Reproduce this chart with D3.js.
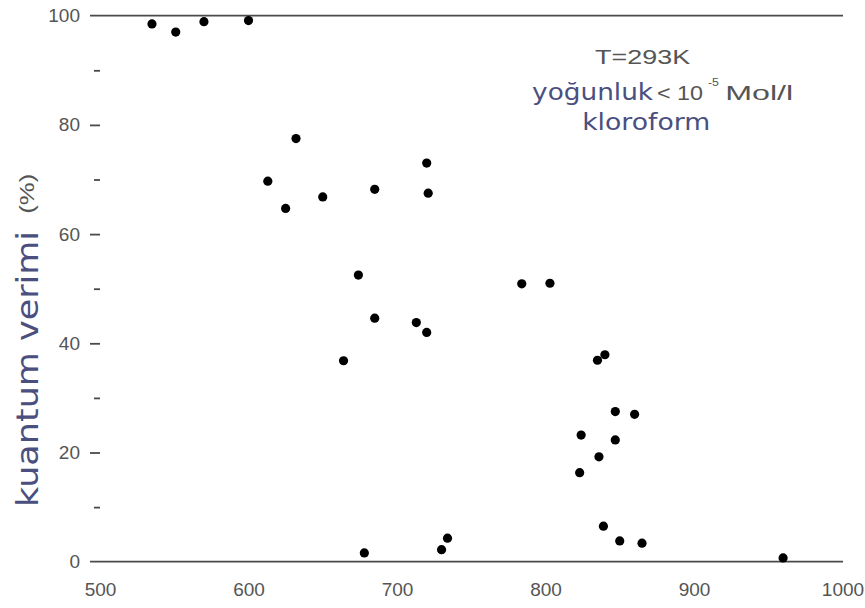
<!DOCTYPE html>
<html>
<head>
<meta charset="utf-8">
<script src="https://cdn.jsdelivr.net/npm/d3@7"></script>
<style>
  html, body { margin: 0; padding: 0; background: #fff; }
  svg { display: block; }
</style>
</head>
<body>
<svg id="chart" width="865" height="608"></svg>
<script>
// ---- data ----
const wavelength = [535, 551, 570, 600, 632, 613, 625, 650, 685, 720, 721, 674, 685, 713, 720, 664,
                    784, 803, 835, 840, 824, 847, 847, 860, 836, 823, 839, 850, 865, 678, 730, 734, 960];
const quantumYield = [98.5, 97.0, 98.9, 99.1, 77.5, 69.7, 64.7, 66.8, 68.2, 73.0, 67.5, 52.5, 44.6, 43.8, 42.0, 36.8,
                      50.9, 51.0, 36.9, 37.9, 23.2, 22.3, 27.5, 27.0, 19.2, 16.3, 6.5, 3.8, 3.4, 1.6, 2.2, 4.3, 0.7];
const xTicks = [500, 600, 700, 800, 900, 1000];
const yMajorTicks = [0, 20, 40, 60, 80, 100];
const yMinorTicks = [10, 30, 50, 70, 90];
const yLabelMain = "kuantum verimi";
const yLabelUnit = "(%)";
const noteLine1 = "T=293K";
const noteWord2 = "yoğunluk";
const noteRest2 = "< 10";
const noteSup2 = "-5";
const noteUnit2 = "Mol/l";
const noteLine3 = "kloroform";

// ---- drawing ----
const svg = d3.select("#chart");
const gray = "#555";
const lineCol = "#4a4a4a";
const accent = "#4a4f80";
const axisFont = "'Liberation Sans', Arial, sans-serif";
const labelFont = "'DejaVu Sans', Verdana, sans-serif";

const x = d3.scaleLinear().domain([500, 1000]).range([100, 842.5]);
const y = d3.scaleLinear().domain([0, 100]).range([561.7, 15.7]);

const lineX0 = x(500) - 10, lineX1 = x(1000) + 0.5;

// horizontal frame lines at 0 and 100
svg.selectAll("line.hline").data([0, 100]).join("line")
  .attr("class", "hline")
  .attr("x1", lineX0).attr("x2", lineX1)
  .attr("y1", d => y(d)).attr("y2", d => y(d))
  .attr("stroke", lineCol).attr("stroke-width", 1.8);

// y axis major ticks + labels
const yAxis = d3.axisLeft(y).tickValues(yMajorTicks).tickSize(10).tickPadding(10).tickFormat(d3.format("d"));
const gy = svg.append("g").attr("transform", `translate(${x(500)},0)`).call(yAxis);
gy.select(".domain").remove();
gy.selectAll(".tick line").attr("stroke", lineCol).attr("stroke-width", 1.8)
  .filter(d => d === 0 || d === 100).remove();
gy.selectAll(".tick text").attr("fill", gray).style("font-family", axisFont).style("font-size", "19px");

// y axis minor ticks
const yMinor = d3.axisLeft(y).tickValues(yMinorTicks).tickSize(6).tickFormat("");
const gym = svg.append("g").attr("transform", `translate(${x(500)},0)`).call(yMinor);
gym.select(".domain").remove();
gym.selectAll(".tick line").attr("stroke", lineCol).attr("stroke-width", 1.8);

// x axis labels (no tick marks)
const xAxis = d3.axisBottom(x).tickValues(xTicks).tickSize(0).tickPadding(21).tickFormat(d3.format("d"));
const gx = svg.append("g").attr("transform", `translate(0,${y(0)})`).call(xAxis);
gx.select(".domain").remove();
gx.selectAll(".tick text").attr("fill", gray).style("font-family", axisFont).style("font-size", "19px");

// points
svg.selectAll("circle.pt").data(wavelength.map((w, i) => [w, quantumYield[i]])).join("circle")
  .attr("class", "pt")
  .attr("cx", d => x(d[0])).attr("cy", d => y(d[1]))
  .attr("r", 4.6).attr("fill", "#000");

// y axis title
svg.append("text")
  .attr("transform", `translate(38,${y(35.3)}) rotate(-90)`)
  .attr("text-anchor", "middle")
  .attr("fill", accent)
  .attr("textLength", 276).attr("lengthAdjust", "spacingAndGlyphs")
  .style("font-family", labelFont).style("font-size", "31px")
  .text(yLabelMain);
svg.append("text")
  .attr("transform", `translate(34,${y(67.4)}) rotate(-90)`)
  .attr("text-anchor", "middle")
  .attr("fill", gray)
  .attr("textLength", 40).attr("lengthAdjust", "spacingAndGlyphs")
  .style("font-family", axisFont).style("font-size", "20px")
  .text(yLabelUnit);

// annotation
svg.append("text")
  .attr("x", x(833.4)).attr("y", y(91.2))
  .attr("fill", gray)
  .attr("textLength", 95).attr("lengthAdjust", "spacingAndGlyphs")
  .style("font-family", axisFont).style("font-size", "21px")
  .text(noteLine1);
svg.append("text")
  .attr("x", x(791)).attr("y", y(84.6))
  .attr("fill", accent)
  .attr("textLength", 121).attr("lengthAdjust", "spacingAndGlyphs")
  .style("font-family", labelFont).style("font-size", "23px")
  .text(noteWord2);
svg.append("text")
  .attr("x", x(875)).attr("y", y(84.6))
  .attr("fill", gray)
  .attr("textLength", 46).attr("lengthAdjust", "spacingAndGlyphs")
  .style("font-family", axisFont).style("font-size", "20px")
  .text(noteRest2);
svg.append("text")
  .attr("x", x(909.4)).attr("y", y(87.2))
  .attr("fill", gray)
  .attr("textLength", 11).attr("lengthAdjust", "spacingAndGlyphs")
  .style("font-family", axisFont).style("font-size", "11px")
  .text(noteSup2);
svg.append("text")
  .attr("x", x(921)).attr("y", y(84.6))
  .attr("fill", gray)
  .attr("textLength", 68).attr("lengthAdjust", "spacingAndGlyphs")
  .style("font-family", axisFont).style("font-size", "20px")
  .text(noteUnit2);
svg.append("text")
  .attr("x", x(824.7)).attr("y", y(79.1))
  .attr("fill", accent)
  .attr("textLength", 128).attr("lengthAdjust", "spacingAndGlyphs")
  .style("font-family", labelFont).style("font-size", "23px")
  .text(noteLine3);
</script>
</body>
</html>
